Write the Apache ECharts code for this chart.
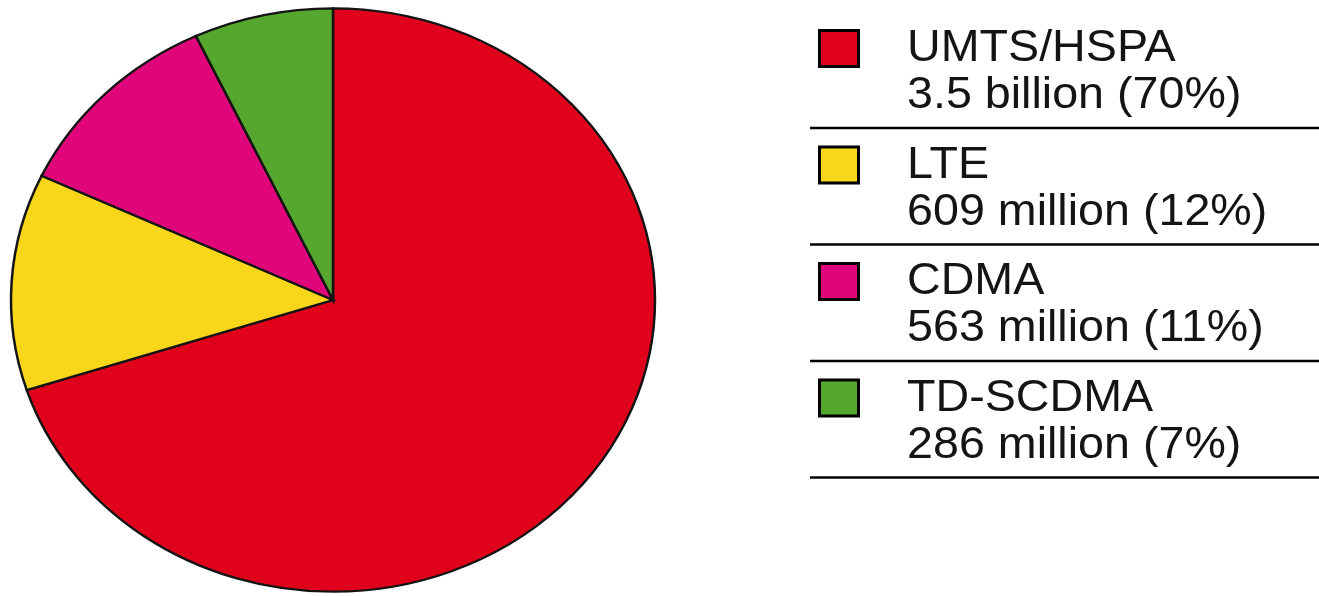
<!DOCTYPE html>
<html>
<head>
<meta charset="utf-8">
<script src="https://cdn.jsdelivr.net/npm/echarts@6/dist/echarts.min.js"></script>
<style>
  html, body { margin: 0; padding: 0; background: #fff; }
  #chart { width: 1319px; height: 596px; }
</style>
</head>
<body>
<div id="chart"></div>
<script>
// technology shares (subscriptions)
const names = ['UMTS/HSPA', 'LTE', 'CDMA', 'TD-SCDMA'];
const amounts = ['3.5 billion', '609 million', '563 million', '286 million'];
const shares = [70, 12, 11, 7];
const colors = ['#E0001B', '#F8D71B', '#E0057A', '#56A72E'];

const total = shares.reduce((a, b) => a + b, 0);

// the pie in the source is a bit squashed vertically
const pieX = 333, pieY = 300, pieR = 322, squash = 0.906;

function renderSlice(params, api) {
    const i = params.dataIndex;
    let before = 0;
    for (let k = 0; k < i; k++) before += shares[k];
    const start = -Math.PI / 2 + before / total * Math.PI * 2;
    const end = start + api.value(0) / total * Math.PI * 2;
    return {
        type: 'sector',
        x: pieX,
        y: pieY,
        scaleY: squash,
        shape: { cx: 0, cy: 0, r0: 0, r: pieR, startAngle: start, endAngle: end, clockwise: true },
        style: {
            fill: colors[i],
            stroke: '#141414',
            lineWidth: 2.5,
            strokeNoScale: true
        }
    };
}

const rowTop = 29, rowStep = 116.5;
const font = '44px "Liberation Sans", Arial, sans-serif';
const legend = [];
names.forEach((name, i) => {
    const top = rowTop + i * rowStep;
    legend.push({
        type: 'rect',
        shape: { x: 819.5, y: top + 1.5, width: 39, height: 36 },
        style: { fill: colors[i], stroke: '#000', lineWidth: 3 }
    });
    legend.push({
        type: 'text',
        x: 907,
        y: top + 20,
        scaleX: 1.06,
        style: { text: name, font: font, fill: '#141414', verticalAlign: 'middle' }
    });
    legend.push({
        type: 'text',
        x: 907,
        y: top + 67,
        scaleX: 1.06,
        style: {
            text: amounts[i] + ' (' + shares[i] + '%)',
            font: font, fill: '#141414', verticalAlign: 'middle'
        }
    });
    legend.push({
        type: 'line',
        shape: { x1: 810, y1: top + 99, x2: 1319, y2: top + 99 },
        style: { stroke: '#000', lineWidth: 2.5 }
    });
});

const chart = echarts.init(document.getElementById('chart'), null, { renderer: 'canvas' });
chart.setOption({
    animation: false,
    backgroundColor: '#fff',
    series: [{
        type: 'custom',
        coordinateSystem: 'none',
        renderItem: renderSlice,
        data: shares
    }],
    graphic: legend
});
</script>
</body>
</html>
